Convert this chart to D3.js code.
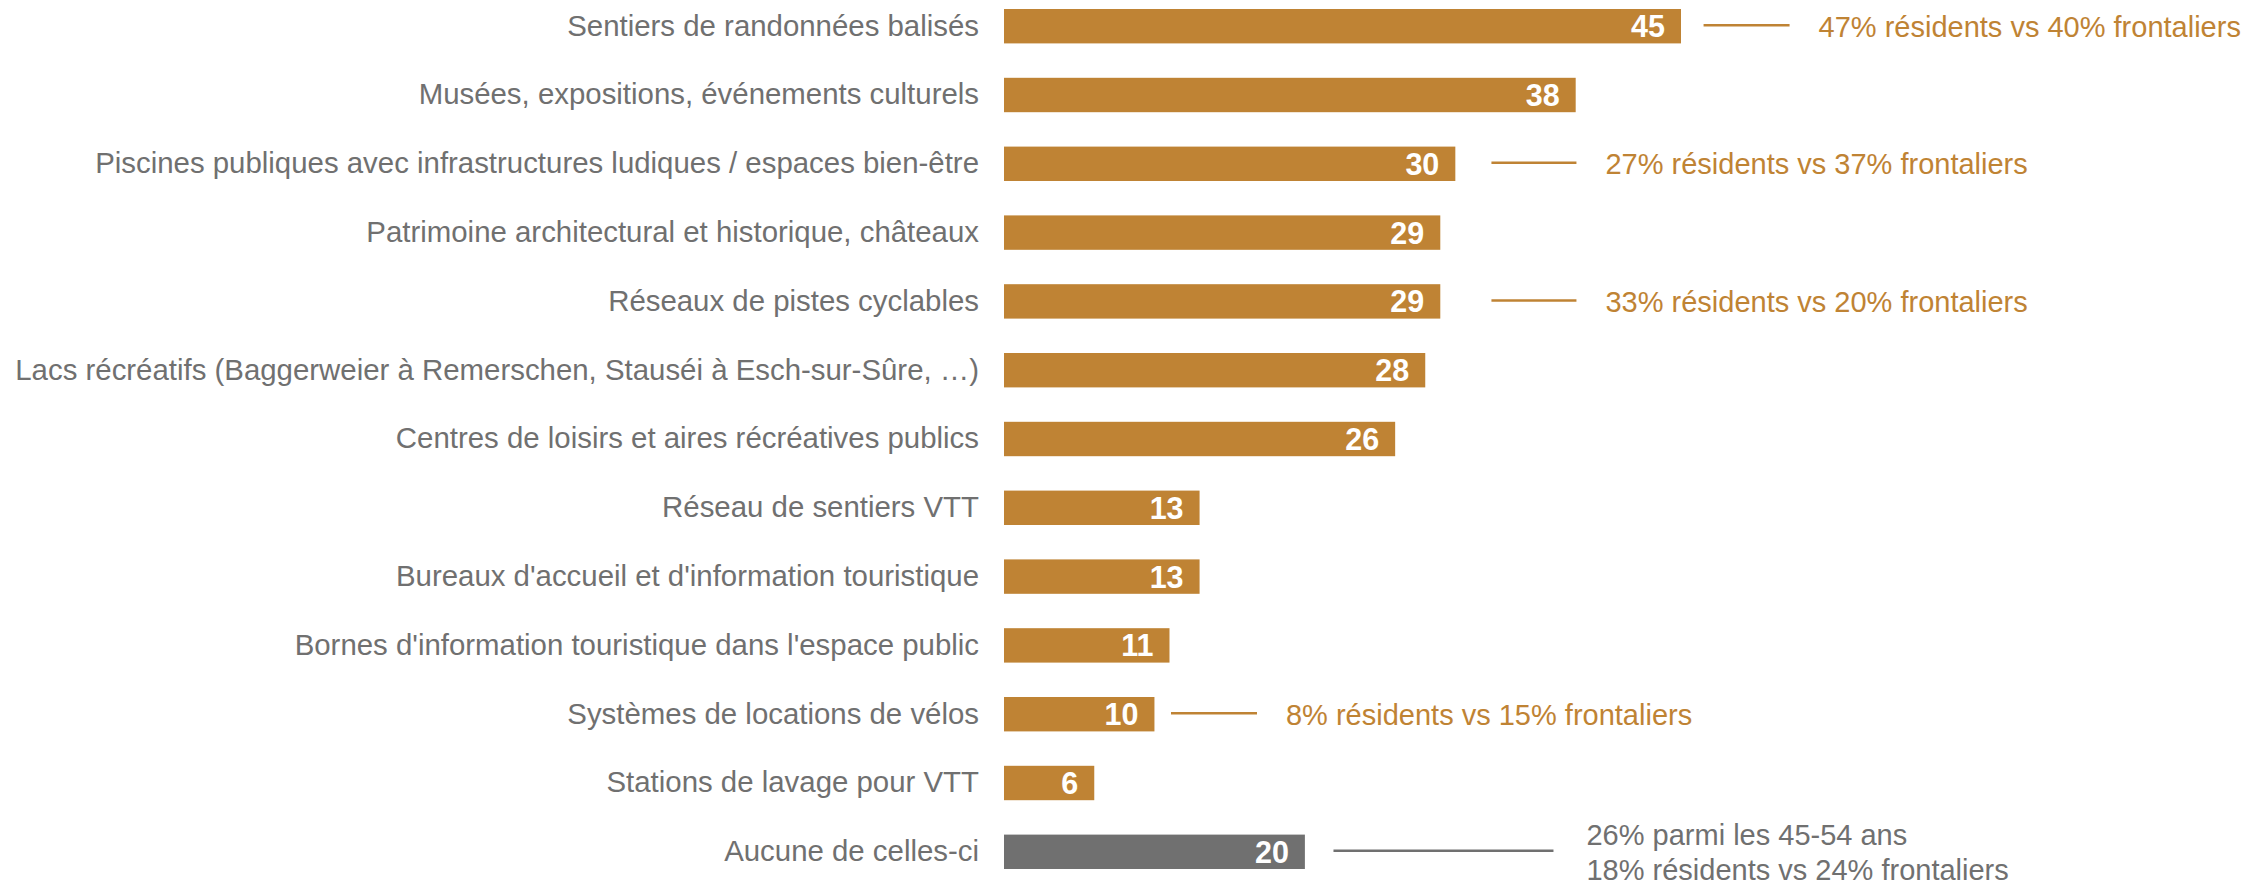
<!DOCTYPE html>
<html>
<head>
<meta charset="utf-8">
<script src="https://cdn.jsdelivr.net/npm/d3@7"></script>
<style>
  body { margin: 0; background: #fff; }
  svg text { font-family: 'Liberation Sans', Arial, sans-serif; }
</style>
</head>
<body>
<div class="bar-chart-container"></div>
<script>
// Data
const categories = [
    'Sentiers de randonnées balisés',
    'Musées, expositions, événements culturels',
    'Piscines publiques avec infrastructures ludiques / espaces bien-être',
    'Patrimoine architectural et historique, châteaux',
    'Réseaux de pistes cyclables',
    'Lacs récréatifs (Baggerweier à Remerschen, Stauséi à Esch-sur-Sûre, …)',
    'Centres de loisirs et aires récréatives publics',
    'Réseau de sentiers VTT',
    "Bureaux d'accueil et d'information touristique",
    "Bornes d'information touristique dans l'espace public",
    'Systèmes de locations de vélos',
    'Stations de lavage pour VTT',
    'Aucune de celles-ci'
];
const values = [45, 38, 30, 29, 29, 28, 26, 13, 13, 11, 10, 6, 20];
const isNone = [false, false, false, false, false, false, false, false, false, false, false, false, true];

// annotations: which row, text lines, where the connector starts (chart units)
const annotationRows = [0, 2, 4, 10, 12];
const annotationTexts = [
    ['47% résidents vs 40% frontaliers'],
    ['27% résidents vs 37% frontaliers'],
    ['33% résidents vs 20% frontaliers'],
    ['8% résidents vs 15% frontaliers'],
    ['26% parmi les 45-54 ans', '18% résidents vs 24% frontaliers']
];
const annotationAt = [46.5, 32.4, 32.4, 11.1, 21.9];
const annotationLen = [86, 85, 85, 86, 220];

const gold = '#BF8334';
const grey = '#707070';

function prepareData(){
    return categories.map((c, i) => ({
        cat: c, value: values[i], none: isNone[i]
    }));
}

function setupCanvas(barData){
    const svg_width = 2248;
    const svg_height = 880;

    const svg = d3.select('.bar-chart-container').append('svg')
        .attr('width', svg_width).attr('height', svg_height);

    // scales
    const xScale = d3.scaleLinear([0, 45], [1004, 1681]);
    const yScale = d3.scaleBand().domain(barData.map(d => d.cat))
        .range([-8.2, -8.2 + 13 * 68.8])
        .paddingInner(0.5)
        .paddingOuter(0.25);
    const mid = d => yScale(d) + yScale.bandwidth() / 2;

    // bars
    svg.selectAll('.bar').data(barData).enter()
        .append('rect').attr('class', 'bar')
        .attr('x', xScale(0)).attr('y', d => yScale(d.cat))
        .attr('width', d => xScale(d.value) - xScale(0))
        .attr('height', yScale.bandwidth())
        .style('fill', d => d.none ? grey : gold);

    // value labels
    svg.selectAll('.val').data(barData).enter()
        .append('text').attr('class', 'val')
        .attr('x', d => xScale(d.value) - 16)
        .attr('y', d => mid(d.cat))
        .attr('dy', '0.36em')
        .attr('text-anchor', 'end')
        .style('font-size', '30.5px').style('font-weight', 'bold')
        .style('fill', '#fff')
        .text(d => d.value);

    // category axis
    const yAxis = d3.axisLeft(yScale).tickSize(0).tickPadding(25);
    const yAxisDraw = svg.append('g').attr('class', 'y axis')
        .attr('transform', `translate(${xScale(0)},0)`).call(yAxis);
    yAxisDraw.select('.domain').remove();
    yAxisDraw.selectAll('text')
        .style('font-size', '29.4px').style('fill', grey)
        .style('font-family', "'Liberation Sans', Arial, sans-serif");

    // annotations
    const ann = annotationRows.map((r, i) => ({
        row: barData[r], lines: annotationTexts[i], at: annotationAt[i], len: annotationLen[i]
    }));
    const g = svg.selectAll('.ann').data(ann).enter().append('g').attr('class', 'ann');
    g.append('line')
        .attr('x1', d => xScale(d.at)).attr('x2', d => xScale(d.at) + d.len)
        .attr('y1', d => mid(d.row.cat) - 1).attr('y2', d => mid(d.row.cat) - 1)
        .style('stroke', d => d.row.none ? grey : gold).style('stroke-width', 2.5);
    g.each(function(d){
        const n = d.lines.length;
        d3.select(this).selectAll('text').data(d.lines).enter().append('text')
            .attr('x', xScale(d.at) + d.len + (d.row.none ? 33 : 29))
            .attr('y', (t, j) => mid(d.row.cat) + (j - (n - 1) / 2) * 35)
            .attr('dy', '0.36em')
            .style('font-size', '29px')
            .style('fill', d.row.none ? grey : gold)
            .text(t => t);
    });
}

function ready(){
    const barData = prepareData();
    setupCanvas(barData);
}
ready();
</script>
</body>
</html>
